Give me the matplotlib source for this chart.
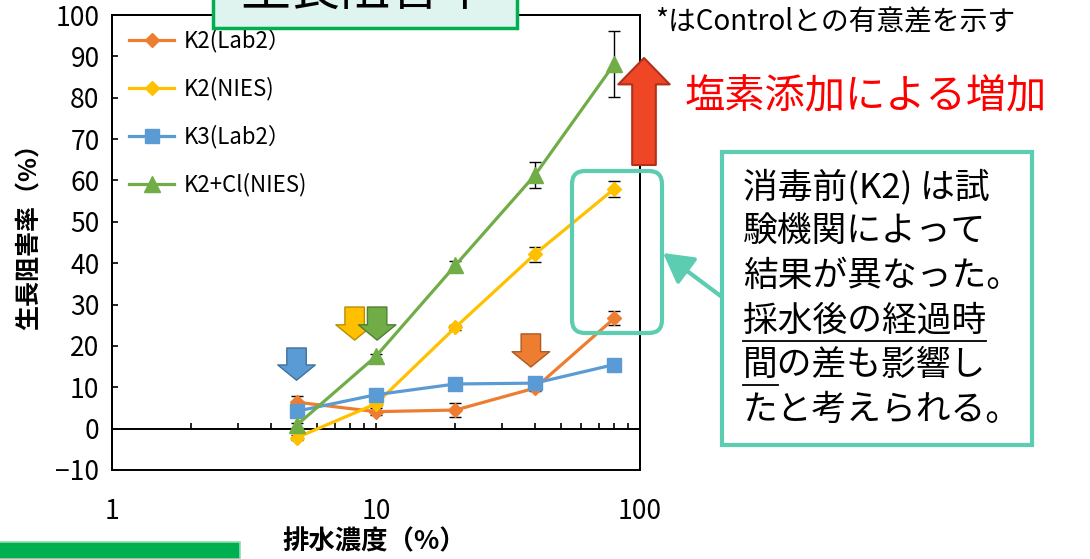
import matplotlib
matplotlib.use("Agg")
import matplotlib.pyplot as plt  # noqa: E402
from matplotlib.patches import Rectangle, FancyBboxPatch  # noqa: E402
from matplotlib.lines import Line2D  # noqa: E402

plt.rcParams["font.family"] = ["Noto Sans CJK JP", "DejaVu Sans"]

# --- data ---
conc = [5, 10, 20, 40, 80]
k2_lab2 = [6.4, 4.1, 4.5, 9.8, 26.7]
k2_lab2_err = [1.5, 0.8, 1.7, 0.8, 1.7]
k2_nies = [-2.2, 6.0, 24.5, 42.2, 58.0]
k2_nies_err = [0.6, 0.6, 0.6, 1.8, 1.9]
k3_lab2 = [4.2, 8.2, 10.8, 11.0, 15.5]
k3_lab2_err = [0.4, 0.4, 0.4, 0.4, 0.4]
k2cl_nies = [0.8, 17.5, 39.5, 61.3, 88.2]
k2cl_nies_err = [0.6, 0.6, 1.1, 3.1, 8.0]
series_labels = ["K2(Lab2）", "K2(NIES)", "K3(Lab2）", "K2+Cl(NIES)"]

# significance arrows: (concentration, arrow top, arrow tip) in data units
sig_arrows = {
    "blue": (5.0, 19.5, 11.7),
    "yellow": (8.3, 29.4, 21.4),
    "green": (10.1, 29.4, 21.4),
    "orange": (38.6, 22.9, 14.9),
}

callout_lines = ["消毒前(K2) は試", "験機関によって", "結果が異なった。",
                 "採水後の経過時", "間の差も影響し", "たと考えられる。"]

ORANGE, YELLOW, BLUE, GREEN = "#ed7d31", "#ffc000", "#5b9bd5", "#70ad47"
EDGES = {"blue": "#41719c", "yellow": "#bc8c00", "green": "#507e32", "orange": "#ae5a21"}
FILLS = {"blue": BLUE, "yellow": YELLOW, "green": GREEN, "orange": ORANGE}
TEAL = "#5ccdb0"

W, H = 1090, 559
fig = plt.figure(figsize=(W / 100, H / 100), dpi=100)


def P(x, y):
    """pixel (top-left origin) -> inches for dpi_scale_trans"""
    return x / 100, (H - y) / 100


ax = fig.add_axes([112 / W, 89 / H, 528 / W, 455 / H])

styles = [
    (k2_lab2, k2_lab2_err, ORANGE, "D", 7.5),
    (k2_nies, k2_nies_err, YELLOW, "D", 7.5),
    (k3_lab2, k3_lab2_err, BLUE, "s", 10),
    (k2cl_nies, k2cl_nies_err, GREEN, "^", 11),
]
for (vals, err, col, mk, ms), lab in zip(styles, series_labels):
    ax.errorbar(conc, vals, yerr=err, fmt="none", ecolor="black",
                elinewidth=1, capsize=4, capthick=1, zorder=2)
    ax.plot(conc, vals, color=col, lw=2.3, marker=mk, ms=ms, mfc=col,
            mec=col, label=lab, zorder=3)

ax.set_xscale("log")
ax.set_xlim(1, 100)
ax.set_ylim(-10, 100)
ax.set_yticks(range(-10, 101, 10))
ax.set_xticks([1, 10, 100])
ax.set_xticklabels(["1", "10", "100"])
ax.spines["bottom"].set_position(("data", 0))
for s in ax.spines.values():
    s.set_linewidth(1.4)
ax.add_patch(Rectangle((0, 0), 1, 1, transform=ax.transAxes, fill=False,
                       lw=1.4, ec="black", clip_on=False, zorder=1))
ax.tick_params(axis="x", which="both", direction="in", length=4, width=1.2,
               labelsize=19, pad=50)
ax.tick_params(axis="y", direction="in", length=4, width=1.2, labelsize=19, pad=9)
ax.tick_params(axis="x", which="minor", labelbottom=False)

ax.legend(loc="upper left", bbox_to_anchor=(0.032, 0.97), frameon=False,
          fontsize=16, handlelength=2.05, labelspacing=1.1, handletextpad=0.4,
          borderpad=0, borderaxespad=0)

# significance block arrows
for key, (xc, ytop, ytip) in sig_arrows.items():
    ax.annotate("", xy=(xc, ytip), xytext=(xc, ytop),
                arrowprops=dict(arrowstyle="simple,head_length=1.1,head_width=2.7,tail_width=1.4",
                                mutation_scale=10, fc=FILLS[key], ec=EDGES[key],
                                lw=1, shrinkA=0, shrinkB=0), zorder=5)

# axis titles
fig.text(30 / W, 1 - 231 / H, "生長阻害率（%）", rotation=90, ha="center",
         va="center", fontsize=18, fontweight="bold")
fig.text(374 / W, 1 - 542 / H, "排水濃度（%）", ha="center", va="center",
         fontsize=19, fontweight="bold")

# title box (cut off at top, as in the slide)
fig.add_artist(Rectangle(P(213, 28), 3.04, 0.6, transform=fig.dpi_scale_trans,
                         fc="#dff4ee", ec="#00b050", lw=2.5, zorder=6))
fig.text(365 / W, 1 + 9 / H, "生長阻害率", ha="center", va="center",
         fontsize=36, zorder=7)

# bottom-left green bar
fig.add_artist(Rectangle(P(-5, 559), 2.45, 0.175, transform=fig.dpi_scale_trans,
                         fc="#00b050", ec="#8fdcb4", lw=1.2, zorder=6))

fig.text(655 / W, 1 - 22 / H, "*はControlとの有意差を示す", ha="left",
         va="center", fontsize=20)
fig.text(685 / W, 1 - 97 / H, "塩素添加による増加", ha="left", va="center",
         fontsize=29, color="#ff0000")

# big red up arrow
ax.annotate("", xy=(644, H - 58), xycoords="figure pixels",
            xytext=(644, H - 165), textcoords="figure pixels",
            arrowprops=dict(arrowstyle="simple,head_length=1.9,head_width=3.7,tail_width=1.7",
                            mutation_scale=10, fc="#ef4726", ec="#b0301a", lw=1.5,
                            shrinkA=0, shrinkB=0),
            annotation_clip=False, zorder=8)

# rounded highlight around the 80% points
fig.add_artist(FancyBboxPatch(P(572, 333), 0.90, 1.62,
                              boxstyle="round,pad=0,rounding_size=0.13",
                              transform=fig.dpi_scale_trans, fill=False,
                              ec=TEAL, lw=3, zorder=6))

# callout box with pointer
fig.add_artist(Rectangle(P(722, 445), 3.10, 2.93, transform=fig.dpi_scale_trans,
                         fc="white", ec=TEAL, lw=3, zorder=6))
ax.annotate("", xy=(663, H - 253), xycoords="figure pixels",
            xytext=(722, H - 297), textcoords="figure pixels",
            arrowprops=dict(arrowstyle="-|>,head_length=0.9,head_width=0.5",
                            mutation_scale=20, color=TEAL, lw=3, shrinkA=0, shrinkB=0),
            annotation_clip=False, zorder=6)

texts = []
for i, line in enumerate(callout_lines):
    t = fig.text(743 / W, 1 - (187 + i * 44.6) / H, line, ha="left", va="center",
                 fontsize=25, zorder=7)
    texts.append(t)

# underlines: whole of line 4 and first character of line 5
fig.canvas.draw()
r = fig.canvas.get_renderer()
bb4 = texts[3].get_window_extent(r)
probe = fig.text(743 / W, 1 - (187 + 4 * 44.6) / H, callout_lines[4][0],
                 ha="left", va="center", fontsize=25)
bb5 = probe.get_window_extent(r)
probe.remove()
for x0, x1, yc in [(bb4.x0, bb4.x1, 187 + 3 * 44.6), (bb5.x0, bb5.x1, 187 + 4 * 44.6)]:
    yl = H - (yc + 20)
    fig.add_artist(Line2D([x0 / W, x1 / W], [yl / H, yl / H], transform=fig.transFigure,
                          color="black", lw=1.3, zorder=7))

fig.savefig("out.png", dpi=100)
